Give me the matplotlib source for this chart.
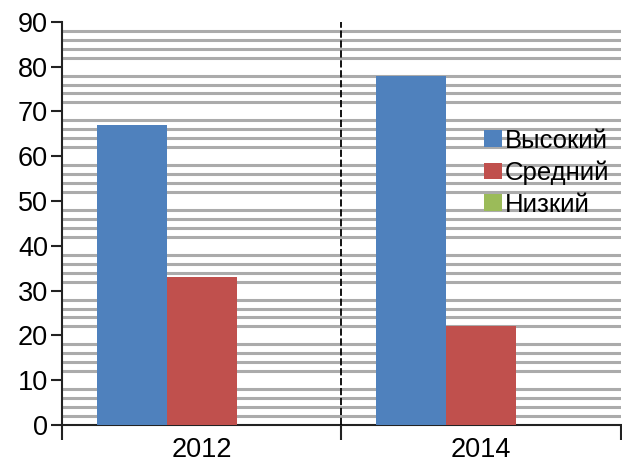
import numpy as np
import matplotlib.pyplot as plt
from matplotlib.ticker import MultipleLocator

# Data
years = ['2012', '2014']
series = ['Высокий', 'Средний', 'Низкий']
values = {
    'Высокий': [67, 78],
    'Средний': [33, 22],
    'Низкий': [0, 0],
}
colors = ['#4f81bd', '#c0504d', '#9bbb59']

plt.rcParams['font.family'] = ['Liberation Sans', 'DejaVu Sans']

fig = plt.figure(figsize=(6.22, 4.66), dpi=100)
ax = fig.add_axes([0.0997, 0.088, 0.8983, 0.8652])

x = np.arange(len(years))
width = 0.25
for i, name in enumerate(series):
    ax.bar(x + (i - 1) * width, values[name], width, color=colors[i],
           label=name, zorder=3)

ax.set_xlim(-0.5, len(years) - 0.5)
ax.set_ylim(0, 90)

# y axis: major ticks every 10, gridlines only at the minor steps
ax.yaxis.set_major_locator(MultipleLocator(10))
ax.yaxis.set_minor_locator(MultipleLocator(2))
ax.yaxis.grid(True, which='minor', color='#ababab', linewidth=2.2, zorder=0)
ax.tick_params(axis='y', which='major', length=8, width=1.5, labelsize=19.5,
               pad=2, color='#222222')
ax.tick_params(axis='y', which='minor', length=0)

# x axis: labels centred, tick marks at category boundaries
ax.set_xticks(x)
ax.set_xticklabels(years)
ax.set_xticks(np.arange(len(years) + 1) - 0.5, minor=True)
ax.tick_params(axis='x', which='major', length=0, labelsize=19.5, pad=9)
ax.tick_params(axis='x', which='minor', length=11, width=1.5, color='#222222')

# dashed separator between categories
for b in np.arange(1, len(years)) - 0.5:
    ax.axvline(b, color='black', linestyle=(0, (4, 1.5)), linewidth=1.3, zorder=4)

for s in ['top', 'right']:
    ax.spines[s].set_visible(False)
for s in ['left', 'bottom']:
    ax.spines[s].set_linewidth(1.5)
    ax.spines[s].set_color('#222222')

ax.legend(loc='upper left', bbox_to_anchor=(0.755, 0.735), frameon=False,
          fontsize=18.5, handlelength=0.7, handleheight=0.6,
          handletextpad=0.1, labelspacing=0.3, borderaxespad=0,
          borderpad=0)

fig.savefig('out.png', dpi=100)
